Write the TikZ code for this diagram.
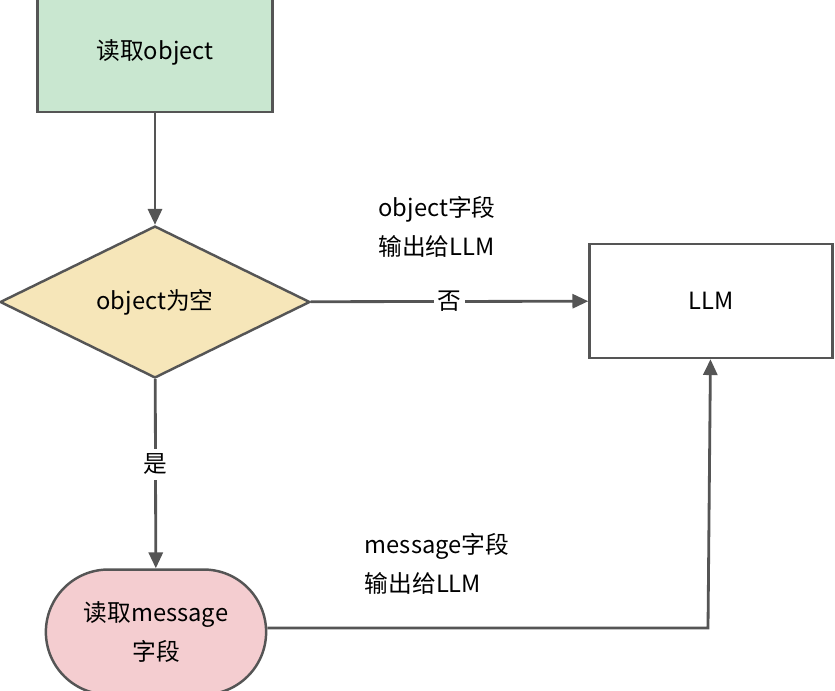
\documentclass[tikz,border=0pt]{standalone}
\usepackage{fontspec}
\setmainfont{Noto Sans CJK SC}
\usetikzlibrary{shapes.geometric,shapes.misc,arrows.meta,positioning}
\definecolor{boxgreen}{HTML}{C9E7D0}
\definecolor{boxyellow}{HTML}{F6E6B9}
\definecolor{boxpink}{HTML}{F4CDD0}
\definecolor{linegray}{HTML}{555555}
\begin{document}
\begin{tikzpicture}[x=0.02cm, y=-0.02cm, >={Triangle[length=9pt,width=8pt]},
  every node/.style={font=\fontsize{13.5}{22}\selectfont},
  block/.style={draw=linegray, line width=1.4pt},
  flow/.style={->, draw=linegray, line width=1.6pt}]
\useasboundingbox (0,0) rectangle (835,690);
% Nodes
\node[block, fill=boxgreen, minimum width=4.7cm, minimum height=2.4cm, inner sep=0pt] (read) at (155,52) {读取object};
\node[block, diamond, fill=boxyellow, aspect=2.05, minimum width=6.2cm, minimum height=3.04cm, inner sep=0pt] (check) at (155,302) {object为空};
\node[block, fill=white, minimum width=4.86cm, minimum height=2.28cm] (llm) at (711,301) {LLM};
\node[block, rounded rectangle, fill=boxpink, minimum width=4.64cm, minimum height=2.5cm, align=center] (msg) at (156,632) {读取message\\字段};
\coordinate (corner) at (708,628);
% Arrows
\draw[flow] (read) -- (check);
\draw[flow] (check) -- node[fill=white, inner sep=2pt] {否} (llm);
\draw[flow] (check) -- node[fill=white, inner sep=3pt, pos=0.45] {是} (msg);
\draw[flow] (msg.east |- corner) -- (corner) -- (llm);
% Labels
\node[align=left] (lab1) at (437,227) {object字段\\输出给LLM};
\node[align=left] (lab2) at (437,564) {message字段\\输出给LLM};
\end{tikzpicture}
\end{document}
